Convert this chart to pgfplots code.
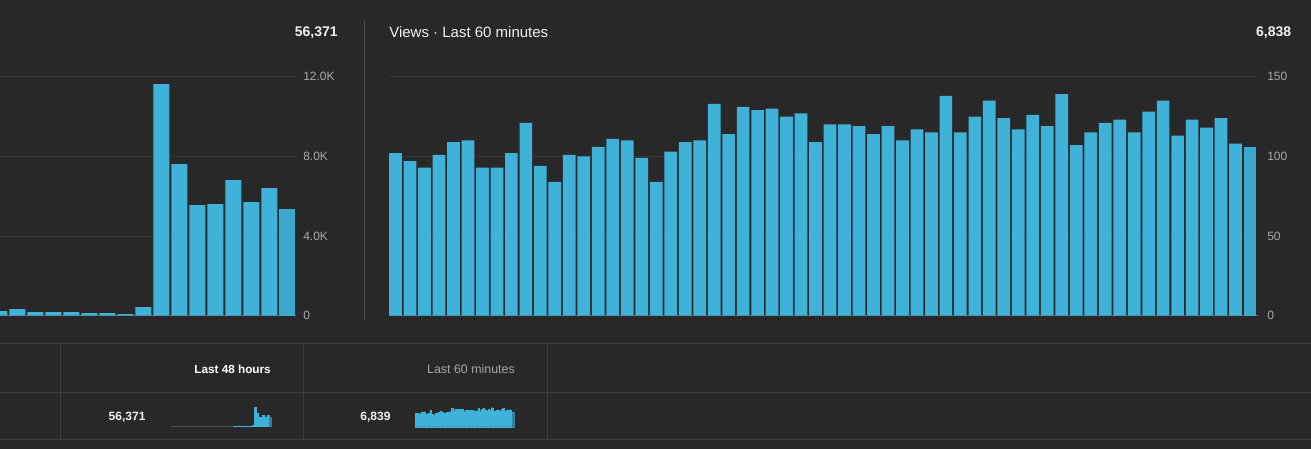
\documentclass[border=0pt]{standalone}
\usepackage{fontspec}
\setmainfont{Liberation Sans}
\usepackage{pgfplots}
\usepackage{pgfplotstable}
\pgfplotsset{compat=1.18}

\definecolor{bgc}{HTML}{282828}
\definecolor{barc}{HTML}{3FB2D9}
\definecolor{barlast}{HTML}{3BA8CF}
\definecolor{spdark}{HTML}{30809F}
\definecolor{gridc}{HTML}{373737}
\definecolor{basec}{HTML}{656565}
\definecolor{tickc}{HTML}{AAAAAA}
\definecolor{linec}{HTML}{3D3D3D}
\definecolor{sepc}{HTML}{4E4E4E}
\definecolor{spbase}{HTML}{505050}
\definecolor{titlec}{HTML}{F1F1F1}
\definecolor{greytext}{HTML}{A6A6A6}

% Views per hour, last 48 hours
\pgfplotstableread{
h v
1 0
2 0
3 0
4 0
5 0
6 0
7 0
8 0
9 0
10 0
11 0
12 0
13 0
14 0
15 0
16 0
17 0
18 0
19 0
20 0
21 0
22 0
23 0
24 0
25 0
26 0
27 0
28 0
29 0
30 0
31 200
32 234
33 335
34 184
35 184
36 184
37 134
38 134
39 84
40 435
41 11632
42 7615
43 5556
44 5607
45 6812
46 5707
47 6410
48 5356
}\hours

% Views per minute, last 60 minutes
\pgfplotstableread{
m v
1 102
2 97
3 93
4 101
5 109
6 110
7 93
8 93
9 102
10 121
11 94
12 84
13 101
14 100
15 106
16 111
17 110
18 99
19 84
20 103
21 109
22 110
23 133
24 114
25 131
26 129
27 130
28 125
29 127
30 109
31 120
32 120
33 119
34 114
35 119
36 110
37 117
38 115
39 138
40 115
41 125
42 135
43 124
44 117
45 126
46 119
47 139
48 107
49 115
50 121
51 123
52 115
53 128
54 135
55 113
56 123
57 118
58 124
59 108
60 106
}\minutes

\pgfplotsset{
  rtbase/.style={
    scale only axis,
    height=179.25pt,
    ymin=0,
    axis line style={draw=none},
    xtick=\empty,
    major tick length=0pt,
    scaled y ticks=false,
    ymajorgrids,
    grid style={draw=gridc, line width=0.75pt},
    yticklabel pos=right,
    yticklabel style={anchor=west, inner sep=0pt, text=tickc, font=\fontsize{9}{9}\selectfont},
    extra y tick style={grid style={draw=basec, line width=0.75pt}},
  },
  spark/.style={
    scale only axis,
    hide axis,
    ymin=0,
    clip=false,
  },
}

\begin{document}
\begin{tikzpicture}[x=0.75pt,y=0.75pt]
\fill[bgc] (0,0) rectangle (1311,449);
\useasboundingbox (0,0) rectangle (1311,449);
\clip (0,0) rectangle (1311,449);

% ---------- left panel: last 48 hours ----------
\begin{axis}[rtbase,
  at={(222pt,99.975pt)}, anchor=south east,
  width=647.8pt,
  xmin=0.5, xmax=48.483, ymax=12000,
  ytick={4000,8000,12000}, yticklabels={4.0K,8.0K,12.0K},
  extra y ticks={0}, extra y tick labels={0},
  yticklabel style={xshift=5.25pt},
]
\addplot[ybar, bar shift=0pt, bar width=0.889, fill=barc, draw=none, restrict x to domain=1:47] table[x=h,y=v]{\hours};
\addplot[ybar, bar shift=0pt, bar width=0.889, fill=barlast, draw=none, restrict x to domain=48:48] table[x=h,y=v]{\hours};
\end{axis}

% ---------- right panel: last 60 minutes ----------
\begin{axis}[rtbase,
  at={(291.75pt,99.975pt)}, anchor=south west,
  width=651.75pt,
  xmin=0.55, xmax=60.55, ymax=150,
  ytick={50,100,150}, yticklabels={50,100,150},
  extra y ticks={0}, extra y tick labels={0},
  yticklabel style={xshift=6.75pt},
]
\addplot[ybar, bar shift=0pt, bar width=0.877, fill=barc, draw=none, restrict x to domain=1:59] table[x=m,y=v]{\minutes};
\addplot[ybar, bar shift=0pt, bar width=0.877, fill=barlast, draw=none, restrict x to domain=60:60] table[x=m,y=v]{\minutes};
\end{axis}

% separator between panels
\draw[sepc, line width=0.75pt] (364.5,129) -- (364.5,429);

% headings
\node[anchor=base east, inner sep=0pt, text=titlec, font=\fontsize{10.5}{12}\selectfont\bfseries] at (338,412.3) {56,371};
\node[anchor=base west, inner sep=0pt, text=titlec, font=\fontsize{11.25}{13}\selectfont] at (389,411.7) {Views · Last 60 minutes};
\node[anchor=base east, inner sep=0pt, text=titlec, font=\fontsize{10.5}{12}\selectfont\bfseries] at (1291.5,412.3) {6,838};

% ---------- bottom table ----------
\draw[linec, line width=0.75pt] (0,105) -- (1311,105);
\draw[linec, line width=0.75pt] (0,56.7) -- (1311,56.7);
\draw[linec, line width=0.75pt] (0,9) -- (1311,9);
\foreach \xx in {60,303,547} {
  \draw[linec, line width=0.75pt] (\xx,105) -- (\xx,9);
}
\node[anchor=base east, inner sep=0pt, text=white, font=\fontsize{8.8}{10}\selectfont\bfseries] at (271,75.7) {Last 48 hours};
\node[anchor=base east, inner sep=0pt, text=greytext, font=\fontsize{9.3}{10}\selectfont] at (515,75.7) {Last 60 minutes};
\node[anchor=base east, inner sep=0pt, text=titlec, font=\fontsize{9}{10}\selectfont\bfseries] at (145.7,28.5) {56,371};
\node[anchor=base east, inner sep=0pt, text=titlec, font=\fontsize{9}{10}\selectfont\bfseries] at (390.7,28.5) {6,839};

% sparkline: last 48 hours
\begin{axis}[spark,
  at={(128.25pt,16.95pt)}, anchor=south west,
  width=75pt, height=14.5pt,
  xmin=0.5, xmax=48.5, ymax=11632,
]
\draw[spbase, line width=0.8pt] (axis cs:0.5,0) -- (axis cs:30.5,0);
\draw[barc, line width=0.8pt] (axis cs:30.5,0) -- (axis cs:48.5,0);
\addplot[ybar, bar shift=0pt, bar width=1, fill=barc, draw=barc, line width=0.4pt, restrict x to domain=31:47] table[x=h,y=v]{\hours};
\addplot[ybar, bar shift=0pt, bar width=1, fill=spdark, draw=spdark, line width=0.4pt, restrict x to domain=48:48] table[x=h,y=v]{\hours};
\end{axis}

% sparkline: last 60 minutes
\begin{axis}[spark,
  at={(311.25pt,16.725pt)}, anchor=south west,
  width=74.5pt, height=14.25pt,
  xmin=0.5, xmax=60.5, ymax=139,
]
\addplot[ybar, bar shift=0pt, bar width=1, fill=barc, draw=barc, line width=0.2pt, restrict x to domain=1:59] table[x=m,y=v]{\minutes};
\addplot[ybar, bar shift=0pt, bar width=1, fill=spdark, draw=spdark, line width=0.2pt, restrict x to domain=60:60] table[x=m,y=v]{\minutes};
\end{axis}
\end{tikzpicture}
\end{document}
